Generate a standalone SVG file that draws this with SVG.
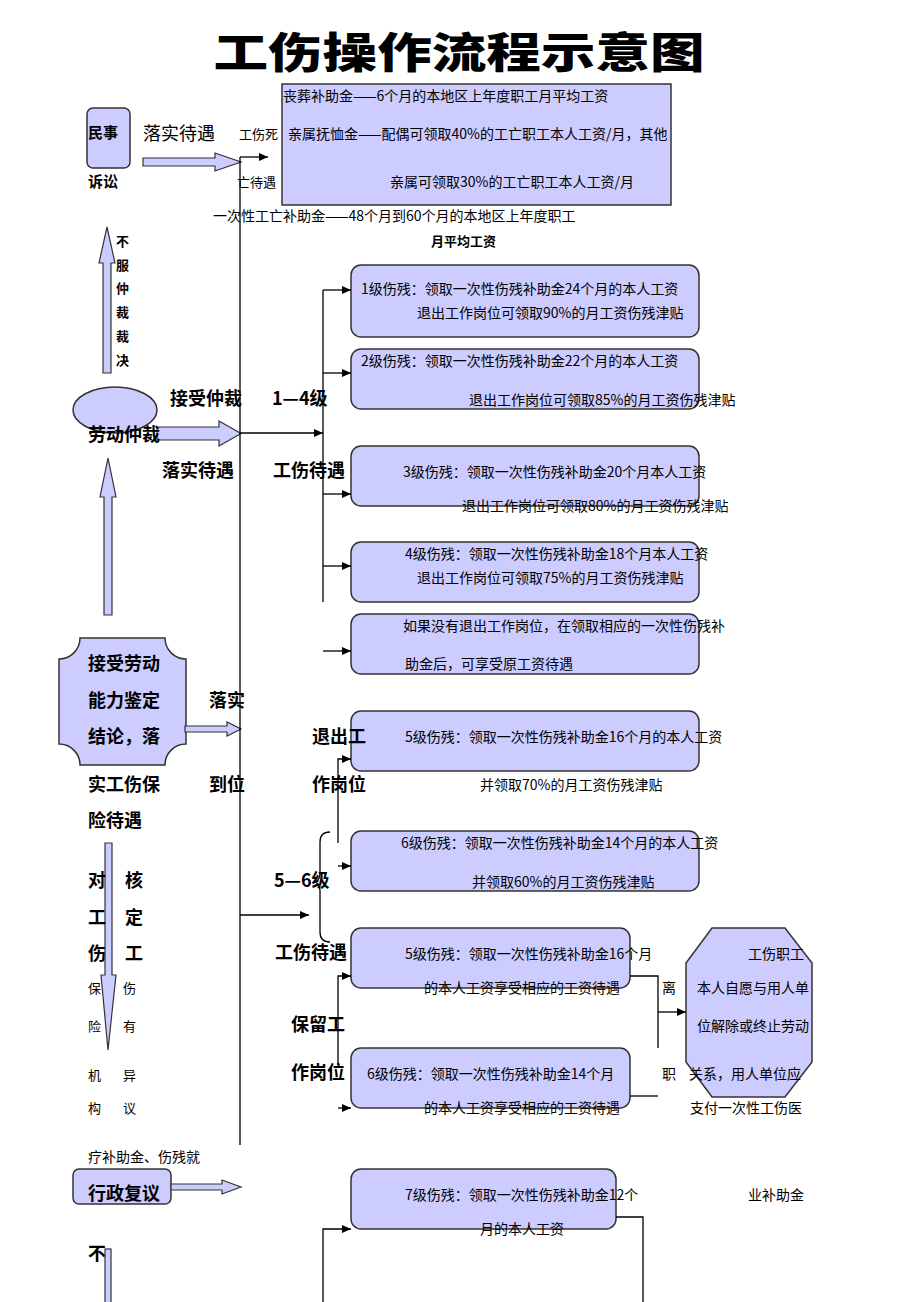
<svg xmlns="http://www.w3.org/2000/svg" width="920" height="1302" viewBox="0 0 920 1302">
<style>
.t{font-family:"Noto Sans CJK SC","Noto Sans",sans-serif;font-size:14px;fill:#000}
.s{font-size:13px}
.b{font-family:"Noto Sans CJK SC","Noto Sans",sans-serif;font-size:18px;font-weight:bold;fill:#000}
.bs{font-family:"Noto Sans CJK SC","Noto Sans",sans-serif;font-size:13px;font-weight:bold;fill:#000}
.box{fill:#ccccff;stroke:#333;stroke-width:1.5}
.ba{fill:#ccccff;stroke:#333;stroke-width:1.2}
.ln{fill:none;stroke:#000;stroke-width:1.3}
.title{font-family:"Noto Sans CJK SC",sans-serif;font-size:42px;font-weight:900;fill:#000}
</style>
<defs>
<marker id="ah" markerWidth="9" markerHeight="8" refX="9" refY="4" orient="auto" markerUnits="userSpaceOnUse">
<path d="M0,0 L9,4 L0,8 Z" fill="#000"/>
</marker>
</defs>
<rect width="920" height="1302" fill="#fff"/>

<text class="title" transform="translate(459,68) scale(1.3,1)" text-anchor="middle">工伤操作流程示意图</text>

<g id="death-box">
<rect class="box" x="282" y="84" width="389" height="121" rx="0"/>
<text class="t" x="283" y="101">丧葬补助金——6个月的本地区上年度职工月平均工资</text>
<text class="t" x="288" y="139">亲属抚恤金——配偶可领取40%的工亡职工本人工资/月，其他</text>
<text class="t" x="390" y="187">亲属可领取30%的工亡职工本人工资/月</text>
</g>
<g id="death-labels">
<text class="t s" x="239" y="139">工伤死</text>
<text class="t s" x="237" y="187">亡待遇</text>
<text class="t" x="213" y="221">一次性工亡补助金——48个月到60个月的本地区上年度职工</text>
<text class="bs" x="431" y="246">月平均工资</text>
</g>

<g id="civil">
<rect class="box" x="87" y="108" width="43" height="60" rx="6"/>
<text class="bs" x="88" y="138" style="font-size:15px">民事</text>
<text class="bs" x="88" y="187" style="font-size:15px">诉讼</text>
<text class="t" x="143" y="140" style="font-size:18px">落实待遇</text>
<polygon class="ba" points="143,158 215,158 215,153 241,162 215,171 215,166 143,166"/>
</g>

<g id="appeal-up">
<polygon class="ba" points="103,373 103,263 99,263 107,227 115,263 111,263 111,373"/>
<text class="bs" x="116" y="246">不</text>
<text class="bs" x="116" y="270">服</text>
<text class="bs" x="116" y="293">仲</text>
<text class="bs" x="116" y="317">裁</text>
<text class="bs" x="116" y="341">裁</text>
<text class="bs" x="116" y="365">决</text>
</g>

<g id="arbitration">
<ellipse class="box" cx="115" cy="410" rx="42" ry="23"/>
<polygon class="ba" points="157,427 219,427 219,421 241,433.5 219,446 219,440 157,440"/>
<text class="b" x="88" y="441">劳动仲裁</text>
<text class="b" x="170" y="405">接受仲裁</text>
<text class="b" x="272" y="405">1—4级</text>
<text class="b" x="162" y="477">落实待遇</text>
<text class="b" x="273" y="477">工伤待遇</text>
</g>

<g id="up-arrow-2">
<polygon class="ba" points="104,615 104,497 100,497 108,458 116,497 112,497 112,615"/>
</g>

<g id="level1">
<rect class="box" x="351" y="265" width="348" height="72" rx="10"/>
<text class="t" x="361" y="294">1级伤残：领取一次性伤残补助金24个月的本人工资</text>
<text class="t" x="417" y="318">退出工作岗位可领取90%的月工资伤残津贴</text>
</g>
<g id="level2">
<rect class="box" x="351" y="349" width="348" height="60" rx="10"/>
<text class="t" x="361" y="366">2级伤残：领取一次性伤残补助金22个月的本人工资</text>
<text class="t" x="469" y="405">退出工作岗位可领取85%的月工资伤残津贴</text>
</g>
<g id="level3">
<rect class="box" x="351" y="446" width="348" height="60" rx="10"/>
<text class="t" x="403" y="477">3级伤残：领取一次性伤残补助金20个月本人工资</text>
<text class="t" x="462" y="511">退出工作岗位可领取80%的月工资伤残津贴</text>
</g>
<g id="level4">
<rect class="box" x="351" y="542" width="348" height="60" rx="10"/>
<text class="t" x="405" y="559">4级伤残：领取一次性伤残补助金18个月本人工资</text>
<text class="t" x="417" y="583">退出工作岗位可领取75%的月工资伤残津贴</text>
</g>
<g id="no-exit">
<rect class="box" x="351" y="614" width="348" height="60" rx="10"/>
<text class="t" x="403" y="631">如果没有退出工作岗位，在领取相应的一次性伤残补</text>
<text class="t" x="405" y="669">助金后，可享受原工资待遇</text>
</g>

<g id="assessment">
<path class="box" d="M80,638 H165 A21,21 0 0 0 186,659 V744 A21,21 0 0 0 165,765 H80 A21,21 0 0 0 59,744 V659 A21,21 0 0 0 80,638 Z"/>
<text class="b" x="88" y="670">接受劳动</text>
<text class="b" x="88" y="707">能力鉴定</text>
<text class="b" x="88" y="743">结论，落</text>
<text class="b" x="88" y="791">实工伤保</text>
<text class="b" x="88" y="827">险待遇</text>
<polygon class="ba" points="185,726 227,726 227,722 241,729 227,736 227,732 185,732"/>
<text class="b" x="209" y="707">落实</text>
<text class="b" x="209" y="791">到位</text>
</g>

<g id="level5-exit">
<rect class="box" x="351" y="711" width="348" height="60" rx="10"/>
<text class="t" x="405" y="742">5级伤残：领取一次性伤残补助金16个月的本人工资</text>
<text class="t" x="480" y="790">并领取70%的月工资伤残津贴</text>
</g>
<g id="level6-exit">
<rect class="box" x="351" y="831" width="348" height="60" rx="10"/>
<text class="t" x="401" y="848">6级伤残：领取一次性伤残补助金14个月的本人工资</text>
<text class="t" x="472" y="887">并领取60%的月工资伤残津贴</text>
</g>

<g id="review-down">
<polygon class="ba" points="105,843 112,843 112,975 116,975 108,1050 101,975 105,975"/>
<text class="b" x="88" y="887">对</text>
<text class="b" x="125" y="887">核</text>
<text class="b" x="88" y="924">工</text>
<text class="b" x="125" y="924">定</text>
<text class="b" x="88" y="960">伤</text>
<text class="b" x="125" y="960">工</text>
<text class="t s" x="88" y="993">保</text>
<text class="t s" x="123" y="993">伤</text>
<text class="t s" x="88" y="1031">险</text>
<text class="t s" x="123" y="1031">有</text>
<text class="t s" x="88" y="1080">机</text>
<text class="t s" x="123" y="1080">异</text>
<text class="t s" x="88" y="1113">构</text>
<text class="t s" x="123" y="1113">议</text>
</g>

<g id="level5-keep">
<rect class="box" x="351" y="928" width="279" height="60" rx="10"/>
<text class="t" x="405" y="959">5级伤残：领取一次性伤残补助金16个月</text>
<text class="t" x="424" y="993">的本人工资享受相应的工资待遇</text>
</g>
<g id="level6-keep">
<rect class="box" x="351" y="1048" width="279" height="60" rx="10"/>
<text class="t" x="367" y="1079">6级伤残：领取一次性伤残补助金14个月</text>
<text class="t" x="424" y="1113">的本人工资享受相应的工资待遇</text>
</g>

<g id="labels-mid">
<text class="b" x="312" y="743">退出工</text>
<text class="b" x="312" y="791">作岗位</text>
<text class="b" x="274" y="887">5—6级</text>
<text class="b" x="275" y="959">工伤待遇</text>
<text class="b" x="291" y="1031">保留工</text>
<text class="b" x="291" y="1079">作岗位</text>
</g>

<g id="resign">
<polygon class="box" points="712,928 785,928 812,963 812,1062 785,1097 712,1097 686,1062 686,963"/>
<text class="t" x="748" y="959">工伤职工</text>
<text class="t" x="697" y="993">本人自愿与用人单</text>
<text class="t" x="697" y="1031">位解除或终止劳动</text>
<text class="t" x="689" y="1079">关系，用人单位应</text>
<text class="t" x="690" y="1113">支付一次性工伤医</text>
<text class="t" x="88" y="1162">疗补助金、伤残就</text>
<text class="t" x="748" y="1200">业补助金</text>
<text class="t" x="662" y="993">离</text>
<text class="t" x="662" y="1079">职</text>
</g>

<g id="admin-review">
<rect class="box" x="73" y="1169" width="98" height="35" rx="6"/>
<text class="b" x="88" y="1200">行政复议</text>
<polygon class="ba" points="171,1184 222,1184 222,1180 241,1187 222,1194 222,1190 171,1190"/>
<text class="b" x="88" y="1260">不</text>
<rect class="ba" x="105" y="1249" width="6" height="60"/>
</g>

<g id="level7">
<rect class="box" x="351" y="1169" width="265" height="60" rx="10"/>
<text class="t" x="405" y="1200">7级伤残：领取一次性伤残补助金12个</text>
<text class="t" x="480" y="1234">月的本人工资</text>
</g>

<g id="connectors">
<path class="ln" d="M240,157 V1145"/>
<path class="ln" d="M240,157 H268" marker-end="url(#ah)"/>
<path class="ln" d="M240,433 H323" marker-end="url(#ah)"/>
<path class="ln" d="M323,290 V602"/>
<path class="ln" d="M323,290 H351" marker-end="url(#ah)"/>
<path class="ln" d="M323,373 H351" marker-end="url(#ah)"/>
<path class="ln" d="M323,494 H351" marker-end="url(#ah)"/>
<path class="ln" d="M323,566 H351" marker-end="url(#ah)"/>
<path class="ln" d="M323,651 H351" marker-end="url(#ah)"/>
<path class="ln" d="M338,843 V759 H351" marker-end="url(#ah)"/>
<path class="ln" d="M338,866 H351" marker-end="url(#ah)"/>
<path class="ln" d="M330,832 Q320,832 320,842 V873 Q320,880 315,882 Q320,884 320,891 V932 Q320,942 330,942"/>
<path class="ln" d="M240,915 H309" marker-end="url(#ah)"/>
<path class="ln" d="M338,1065 V976 H351" marker-end="url(#ah)"/>
<path class="ln" d="M338,1108 H351" marker-end="url(#ah)"/>
<path class="ln" d="M630,976 H658 V1048"/>
<path class="ln" d="M658,1012 H686" marker-end="url(#ah)"/>
<path class="ln" d="M630,1096 H658"/>
<path class="ln" d="M323,1302 V1229 H351" marker-end="url(#ah)"/>
<path class="ln" d="M616,1217 H643 V1302"/>
</g>
</svg>
